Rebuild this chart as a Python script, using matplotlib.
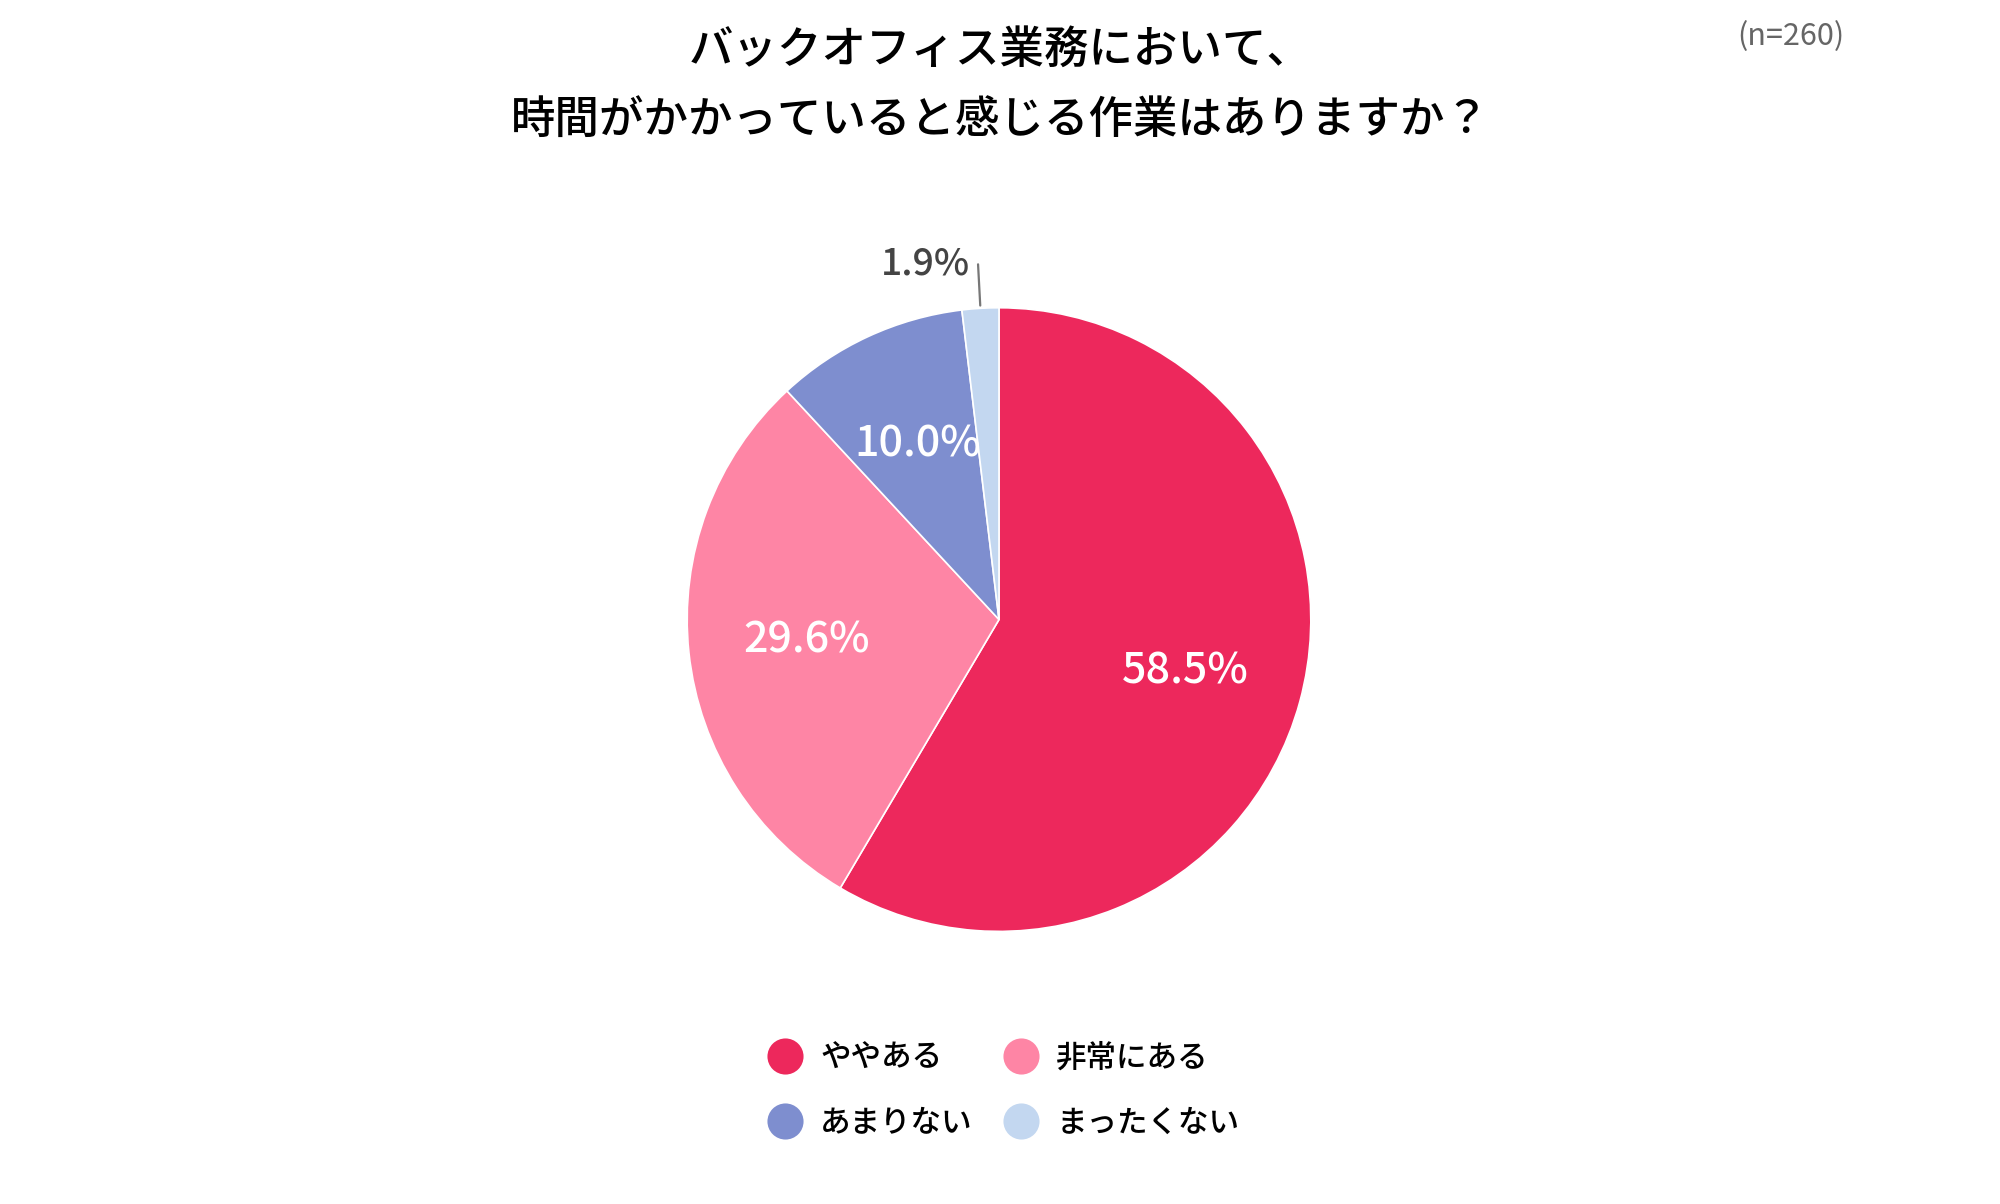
import numpy as np
import matplotlib
matplotlib.use("Agg")
import matplotlib.pyplot as plt
from matplotlib.lines import Line2D

plt.rcParams['font.family'] = ['Noto Sans CJK JP', 'DejaVu Sans']

# data
labels = ['ややある', '非常にある', 'あまりない', 'まったくない']
values = [58.5, 29.6, 10.0, 1.9]
colors = ['#ED285C', '#FE85A5', '#7E8ECF', '#C3D7F0']
title = 'バックオフィス業務において、\n時間がかかっていると感じる作業はありますか？'
n_text = '(n=260)'

fig = plt.figure(figsize=(20, 12.04), dpi=100)
ax = fig.add_axes([0.328, 0.2005, 0.343, 0.5698])

wedges, _ = ax.pie(values, colors=colors, startangle=90, counterclock=False,
                   radius=1.0, wedgeprops=dict(edgecolor='white', linewidth=1.2))
ax.set_xlim(-1.1, 1.1)
ax.set_ylim(-1.1, 1.1)
ax.set_aspect('equal')
ax.axis('off')

for w, v in zip(wedges, values):
    ang = np.deg2rad((w.theta1 + w.theta2) / 2)
    if v > 5:
        ax.text(0.62 * np.cos(ang), 0.62 * np.sin(ang), f'{v:.1f}%',
                ha='center', va='center', color='white', fontsize=31,
                fontweight='medium')
    else:
        x, y = np.cos(ang), np.sin(ang)
        ax.annotate('', xy=(x, y), xytext=(x - 0.008, y + 0.15),
                    arrowprops=dict(arrowstyle='-', color='#777777', lw=1.6))
        ax.text(x - 0.033, y + 0.145, f'{v:.1f}%', ha='right', va='center',
                color='#444444', fontsize=27, fontweight='medium')

fig.text(0.5, 0.929, title, ha='center', va='center', fontsize=32,
         fontweight='medium', linespacing=1.7)
fig.text(0.922, 0.970, n_text, ha='right', va='center', fontsize=22,
         color='#666666')

order = [0, 2, 1, 3]
handles = [Line2D([], [], marker='o', linestyle='none', markersize=26,
                  markerfacecolor=colors[i], markeredgecolor='none') for i in order]
fig.legend(handles, [labels[i] for i in order], ncol=2, loc='center',
           bbox_to_anchor=(0.5015, 0.094), frameon=False, fontsize=22,
           handlelength=1.2, handletextpad=0.55, labelspacing=1.12,
           columnspacing=0.98, prop=dict(size=22, weight='medium'))

fig.savefig('out.png', dpi=100, facecolor='white')
